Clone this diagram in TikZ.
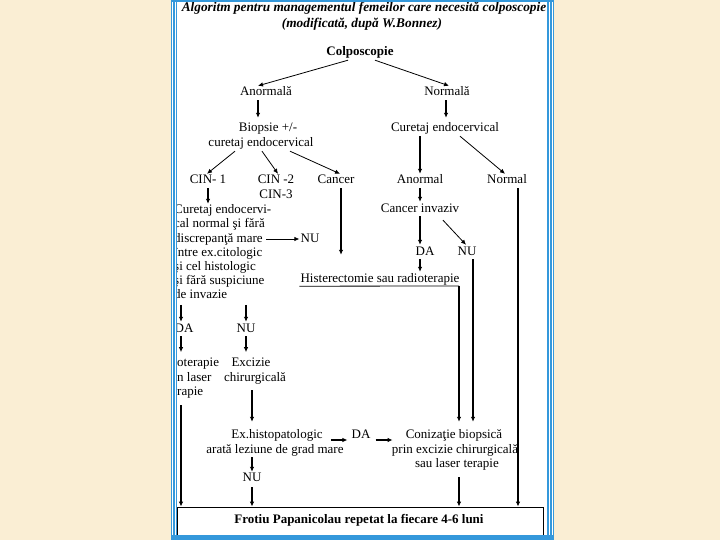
\documentclass[tikz,border=0pt]{standalone}
\usepackage{fontspec}
\setmainfont{Liberation Serif}
\usetikzlibrary{arrows.meta}
\definecolor{beige}{RGB}{250,238,212}
\definecolor{bblue}{RGB}{52,152,219}
\tikzset{
 txt/.style={font=\fontsize{13}{14}\selectfont, inner sep=1pt, text height=9pt, text depth=3pt, anchor=base},
 btxt/.style={txt, font=\fontsize{13}{14}\selectfont\bfseries},
 ttxt/.style={txt, font=\fontsize{13.3}{15}\selectfont\bfseries\itshape},
 ltxt/.style={txt, anchor=base west},
 arr/.style={-{Latex[length=5pt,width=4.5pt]}, line width=1.4pt},
 tarr/.style={-{Latex[length=5pt,width=4.5pt]}, line width=0.8pt},
 thinline/.style={line width=0.8pt},
}
\begin{document}
\begin{tikzpicture}[x=1pt,y=-1pt]
\useasboundingbox (0,0) rectangle (720,540);
\fill[beige] (0,0) rectangle (720,540);
\fill[white] (171,0) rectangle (554,540);

% texts
\node[ttxt] (t1) at (364,12) {Algoritm pentru managementul femeilor care necesită colposcopie};
\node[ttxt] (t2) at (362,28) {(modificată, după W.Bonnez)};
\node[btxt] (colpo) at (360,56) {Colposcopie};
\node[txt] (anorm) at (266,96) {Anormală};
\node[txt] (norm) at (447,96) {Normală};
\node[txt] (biop1) at (268,132) {Biopsie +/-};
\node[txt] (biop2) at (261,147) {curetaj endocervical};
\node[txt] (cur) at (445,132) {Curetaj endocervical};
\node[txt] (cin1) at (208,184) {CIN- 1};
\node[txt] (cin2) at (276,184) {CIN -2};
\node[txt] (cin3) at (276,199) {CIN-3};
\node[txt] (canc) at (336,184) {Cancer};
\node[txt] (anormal) at (420,184) {Anormal};
\node[txt] (normal) at (507,184) {Normal};
\node[txt] (cinv) at (420,212) {Cancer invaziv};
\node[txt] (da1) at (425,255) {DA};
\node[txt] (nu1) at (467,255) {NU};
\node[txt] (hist) at (380,282) {Histerectomie sau radioterapie};
\node[txt] (nu2) at (310,242) {NU};
\node[ltxt] (lb1) at (173,214) {Curetaj endocervi-};
\node[ltxt] (lb2) at (173,228) {cal normal şi fără};
\node[ltxt] (lb3) at (173,242) {discrepanţă mare};
\node[ltxt] (lb4) at (173,256) {între ex.citologic};
\node[ltxt] (lb5) at (173,270) {şi cel histologic};
\node[ltxt] (lb6) at (173,284) {şi fără suspiciune};
\node[ltxt] (lb7) at (173,298) {de invazie};
\node[txt] (da2) at (184,332) {DA};
\node[txt] (nu3) at (246,332) {NU};
\node[ltxt] (cr1) at (176,366) {oterapie};
\node[ltxt] (cr2) at (176,381) {n laser};
\node[ltxt] (cr3) at (176,395) {rapie};
\node[txt] (exc1) at (251,366) {Excizie};
\node[txt] (exc2) at (255,381) {chirurgicală};
\node[txt] (ex1) at (277,438) {Ex.histopatologic};
\node[txt] (ex2) at (275,453) {arată leziune de grad mare};
\node[txt] (da3) at (361,438) {DA};
\node[txt] (con1) at (454,438) {Conizaţie biopsică};
\node[txt] (con2) at (455,453) {prin excizie chirurgicală};
\node[txt] (con3) at (457,467) {sau laser terapie};
\node[txt] (nu4) at (252,481) {NU};
\node[draw, thinline, minimum width=366pt, minimum height=30pt, inner sep=0pt] (frot) at (360,522) {};
\node[btxt] (frotx) at (359,523) {Frotiu Papanicolau repetat la fiecare 4-6 luni};

% connectors
\draw[tarr] ([xshift=-12pt]colpo.south) -- ([xshift=-8pt]anorm.north);
\draw[tarr] ([xshift=15pt]colpo.south) -- ([xshift=2pt]norm.north);
\draw[arr] ([xshift=-8pt]anorm.south) -- ([xshift=-10pt,yshift=4pt]biop1.north);
\draw[arr] ([xshift=-1pt]norm.south) -- ([xshift=1pt,yshift=4pt]cur.north);
\draw[tarr] ([xshift=-26pt]biop2.south) -- ([xshift=-1pt]cin1.north);
\draw[tarr] ([xshift=1pt]biop2.south) -- ([xshift=2pt]cin2.north);
\draw[tarr] ([xshift=29pt]biop2.south) -- ([xshift=4pt]canc.north);
\draw[arr] ([xshift=-25pt]cur.south) -- (anormal.north);
\draw[tarr] ([xshift=15pt]cur.south) -- ([xshift=-2pt]normal.north);
\draw[arr] (anormal.south) -- (cinv.north);
\draw[arr] (cinv.south) -- ([xshift=-5pt]da1.north);
\draw[tarr] ([xshift=23pt,yshift=-4pt]cinv.south) -- ([xshift=-1pt]nu1.north);
\draw[arr] ([xshift=-5pt]da1.south) -- ([xshift=40pt]hist.north);
\draw[arr] ([xshift=5pt]canc.south) -- ([xshift=-39pt,yshift=17pt]hist.north);
\coordinate (hc) at (459,286);
\draw[thinline] (hist.south west) -- (hc);
\draw[arr] (hc) -- ([xshift=5pt,yshift=6pt]con1.north);
\draw[arr] ([xshift=6pt]nu1.south) -- ([xshift=19pt,yshift=6pt]con1.north);
\draw[arr] ([xshift=11pt]normal.south) -- ([xshift=158pt]frot.north);
\draw[arr] (cin1.south) -- (cin1.south |- lb1.north);
\coordinate (dm) at (266,239);
\draw[tarr] (dm) -- (nu2.west);
\draw[arr] ([xshift=-3pt,yshift=17pt]da2.north) -- ([xshift=-3pt]da2.north);
\draw[arr] ([yshift=17pt]nu3.north) -- (nu3.north);
\draw[arr] ([xshift=-3pt]da2.south) -- ([xshift=-3pt,yshift=-16pt]da2.south);
\draw[arr] (nu3.south) -- ([yshift=-16pt]nu3.south);
\coordinate (c1) at (181,405);
\draw[arr] (c1) -- (c1 |- frot.north);
\draw[arr] ([xshift=-3pt,yshift=-5pt]exc2.south) -- ([xshift=-25pt,yshift=6pt]ex1.north);
\draw[arr] ([xshift=7pt,yshift=-5pt]ex1.east) -- ([xshift=-3pt,yshift=-5pt]da3.west);
\draw[arr] ([xshift=4pt,yshift=-5pt]da3.east) -- ([xshift=-12pt,yshift=-5pt]con1.west);
\draw[arr] ([xshift=2pt,yshift=-6pt]con3.south) -- ([xshift=99pt]frot.north);
\draw[arr] ([xshift=-23pt]ex2.south) -- ([yshift=-1pt]nu4.north);
\draw[arr] ([yshift=-2pt]nu4.south) -- (nu4.south |- frot.north);

% border
\fill[white] (171,0) rectangle (177,540);
\fill[bblue] (171,0) rectangle (172.2,540);
\fill[bblue] (173.3,0) rectangle (174.5,540);
\fill[bblue] (175.6,0) rectangle (176.8,540);
\fill[white] (546,0) rectangle (554,540);
\fill[bblue] (547.2,0) rectangle (548.8,540);
\fill[bblue] (550,0) rectangle (551.6,540);
\fill[bblue] (552.6,0) rectangle (554,540);
\fill[bblue] (171,0) rectangle (554,2);
\fill[bblue] (171,535) rectangle (554,540);
\end{tikzpicture}
\end{document}
